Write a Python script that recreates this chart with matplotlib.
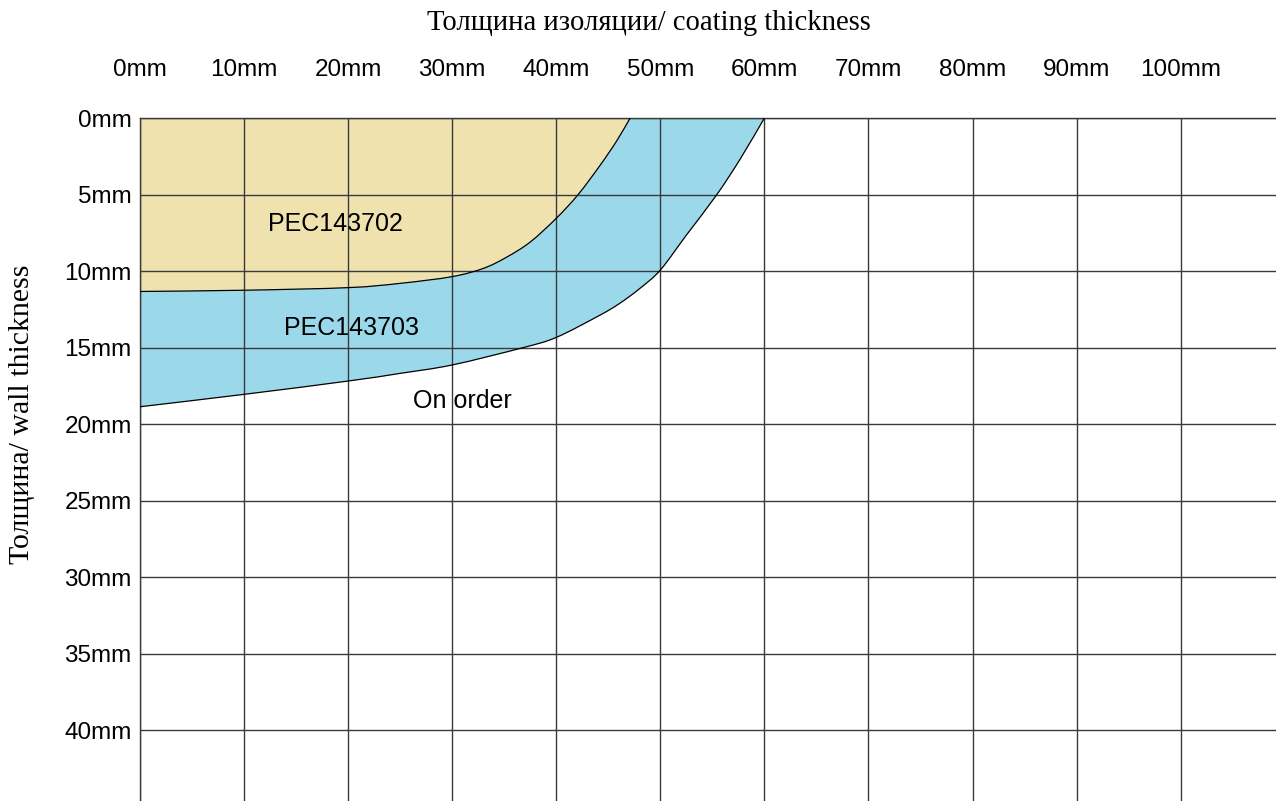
import matplotlib
matplotlib.use("Agg")
import matplotlib.pyplot as plt
from matplotlib.path import Path
from matplotlib.patches import PathPatch
import numpy as np

# Coating thickness (mm) vs wall thickness (mm) boundaries
yellow_x = [0, 10, 20, 25, 30, 33, 35.2, 37.5, 40, 42.1, 44.2, 45.8, 47.1]
yellow_y = [11.33, 11.25, 11.08, 10.8, 10.36, 9.82, 9.1, 8.1, 6.55, 5.0, 3.1, 1.5, 0]
blue_x = [0, 10, 20, 25, 30, 36.8, 40, 44, 46, 48, 50, 52.5, 55.4, 57.7, 60]
blue_y = [18.86, 18.05, 17.18, 16.68, 16.13, 15.0, 14.33, 12.95, 12.15, 11.15, 9.93, 7.65, 5.03, 2.65, 0]

x_ticks = [0, 10, 20, 30, 40, 50, 60, 70, 80, 90, 100]
x_labels = ["0mm", "10mm", "20mm", "30mm", "40mm", "50mm", "60mm", "70mm", "80mm", "90mm", "100mm"]
y_ticks = [0, 5, 10, 15, 20, 25, 30, 35, 40]
y_labels = ["0mm", "5mm", "10mm", "15mm", "20mm", "25mm", "30mm", "35mm", "40mm"]

labels = [("PEC143702", 18.8, 6.9), ("PEC143703", 20.3, 13.7), ("On order", 31.0, 18.5)]


def smooth_segments(xs, ys):
    """Catmull-Rom curve through the points, as cubic Bezier path pieces."""
    p = np.column_stack([xs, ys]).astype(float)
    n = len(p)
    verts, codes = [tuple(p[0])], [Path.MOVETO]
    for i in range(n - 1):
        p0 = p[i - 1] if i > 0 else p[i]
        p1, p2 = p[i], p[i + 1]
        p3 = p[i + 2] if i + 2 < n else p[i + 1]
        c1 = p1 + (p2 - p0) / 6.0
        c2 = p2 - (p3 - p1) / 6.0
        verts += [tuple(c1), tuple(c2), tuple(p2)]
        codes += [Path.CURVE4] * 3
    return verts, codes


W, H = 1276, 801
fig = plt.figure(figsize=(W / 100, H / 100), dpi=100)
x0, y0 = 140, 118
ax = fig.add_axes([x0 / W, 0, 1 - x0 / W, (H - y0) / H])
ax.set_xlim(0, (W - x0) / 10.407)
ax.set_ylim((H - y0) / 15.31, 0)

yellow = "#EFE2AF"
blue = "#9BD9EA"
grid_c = "#3a3a3a"

yv, yc = smooth_segments(yellow_x, yellow_y)
bv, bc = smooth_segments(blue_x, blue_y)
bv_r, bc_r = smooth_segments(blue_x[::-1], blue_y[::-1])

# yellow region: top-left corner -> down the left edge -> along curve -> close
verts = [(0, 0)] + [yv[0]] + yv[1:] + [(0, 0)]
codes = [Path.MOVETO, Path.LINETO] + yc[1:] + [Path.CLOSEPOLY]
ax.add_patch(PathPatch(Path(verts, codes), facecolor=yellow, lw=0, zorder=1))

# blue region: yellow curve -> top edge -> blue curve back -> close
verts = yv + [bv_r[0]] + bv_r[1:] + [yv[0]]
codes = yc + [Path.LINETO] + bc_r[1:] + [Path.CLOSEPOLY]
ax.add_patch(PathPatch(Path(verts, codes), facecolor=blue, lw=0, zorder=1))

ax.add_patch(PathPatch(Path(yv, yc), facecolor="none", edgecolor="black", lw=0.9, zorder=3))
ax.add_patch(PathPatch(Path(bv, bc), facecolor="none", edgecolor="black", lw=0.9, zorder=3))

ax.set_xticks(x_ticks)
ax.set_xticklabels(x_labels)
ax.set_yticks(y_ticks)
ax.set_yticklabels(y_labels)
ax.xaxis.tick_top()
ax.tick_params(axis="both", length=0, labelsize=17.5, colors="black")
ax.tick_params(axis="x", pad=27)
ax.tick_params(axis="y", pad=6)
for t in ax.get_xticklabels() + ax.get_yticklabels():
    t.set_fontfamily("Liberation Sans")

ax.grid(True, color=grid_c, lw=1.0, zorder=2)
ax.set_axisbelow(False)
for s in ["right", "bottom"]:
    ax.spines[s].set_visible(False)
for s in ["left", "top"]:
    ax.spines[s].set_color(grid_c)
    ax.spines[s].set_linewidth(1.0)

for txt, lx, ly in labels:
    ax.text(lx, ly, txt, ha="center", va="center", fontsize=18,
            family="Liberation Sans", zorder=4)

fig.text(649 / W, 1 - 23 / H, "Толщина изоляции/ coating thickness",
         ha="center", va="center", fontsize=20.6, family="Liberation Serif")
fig.text(22 / W, 1 - 414 / H, "Толщина/ wall thickness", rotation=90,
         ha="center", va="center", fontsize=21.5, family="Liberation Serif")

fig.savefig("out.png", dpi=100)
